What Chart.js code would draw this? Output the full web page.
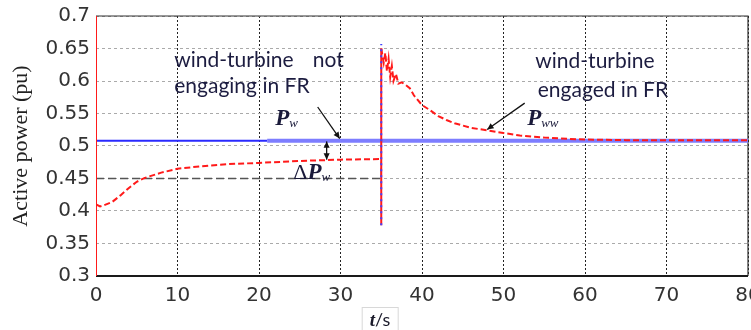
<!DOCTYPE html>
<html>
<head>
<meta charset="utf-8">
<script src="https://cdn.jsdelivr.net/npm/chart.js@4"></script>
<style>html,body{margin:0;padding:0;background:#fff;}canvas{display:block;}</style>
</head>
<body>
<canvas id="c" width="751" height="330"></canvas>
<script>
// ---- data ----
const xTicks = [0, 10, 20, 30, 40, 50, 60, 70, 80];
const yTicks = [0.3, 0.35, 0.4, 0.45, 0.5, 0.55, 0.6, 0.65, 0.7];

// wind turbine not engaging in FR (P_w)
const blueT = [0, 21, 80];
const blueP = [0.508, 0.508, 0.508];
// transient at the event time
const blueSpikeT = [35, 35];
const blueSpikeP = [0.378, 0.657];

// wind turbine engaged in FR (P_ww)
const redT = [0, 0, 0, 0.5, 1, 2, 3, 4, 5, 6, 8, 10, 13, 16, 20, 25, 30, 35,
  35, 35, 35.3, 35.5, 35.7, 35.9, 36.1, 36.3, 36.5, 36.8, 37.1, 37.5, 38, 38.5,
  39, 40, 41, 42, 43, 44, 46, 48, 50, 52, 55, 58, 60, 65, 70, 80];
const redP = [0.7, 0.3, 0.41, 0.407, 0.409, 0.414, 0.424, 0.435, 0.445, 0.451, 0.459, 0.465, 0.469, 0.472, 0.474, 0.477, 0.479, 0.48,
  0.378, 0.65, 0.628, 0.643, 0.615, 0.634, 0.606, 0.623, 0.6, 0.611, 0.596, 0.598, 0.594, 0.589,
  0.578, 0.563, 0.555, 0.546, 0.54, 0.535, 0.528, 0.524, 0.52, 0.516, 0.513, 0.511, 0.51, 0.509, 0.509, 0.509];

// ΔP_w reference level
const refT = [0, 35, 35];
const refP = [0.45, 0.45, 0.476];

const pts = (xs, ys) => xs.map((x, i) => ({x: x, y: ys[i]}));

const annot = {
  id: 'annot',
  beforeDatasetsDraw(chart) {
    const {ctx, chartArea: a} = chart;
    ctx.save();
    ctx.strokeStyle = '#333';
    ctx.lineWidth = 1.2;
    ctx.beginPath();
    ctx.moveTo(a.left, a.top); ctx.lineTo(a.right, a.top); ctx.lineTo(a.right, a.bottom);
    ctx.stroke();
    ctx.strokeStyle = '#1a1a1a';
    ctx.lineWidth = 2;
    ctx.beginPath();
    ctx.moveTo(a.left, a.bottom); ctx.lineTo(a.right, a.bottom);
    ctx.stroke();
    ctx.restore();
  },
  afterDraw(chart) {
    const {ctx, scales: {x, y}, chartArea: a} = chart;
    const X = v => x.getPixelForValue(v), Y = v => y.getPixelForValue(v);
    ctx.save();
    // annotation texts
    ctx.fillStyle = '#1c1c40';
    ctx.font = '21px Lato';
    ctx.textBaseline = 'alphabetic';
    ctx.textAlign = 'left';
    ctx.fillText('wind-turbine', X(9.6), Y(0.6215));
    ctx.fillText('not', X(26.6), Y(0.6215));
    ctx.fillText('engaging in FR', X(9.6), Y(0.5815));
    ctx.fillText('wind-turbine', X(53.9), Y(0.62));
    ctx.fillText('engaged in FR', X(54.2), Y(0.5754));

    // P labels
    const pLabel = (px, py, main, sub, pre) => {
      let cx = px;
      ctx.fillStyle = '#1a1a3a';
      if (pre) {
        ctx.font = '22px "Liberation Serif"';
        ctx.fillText(pre, cx, py);
        cx += ctx.measureText(pre).width;
      }
      ctx.font = 'italic bold 23px "Liberation Serif"';
      ctx.fillText(main, cx, py);
      cx += ctx.measureText(main).width;
      ctx.font = 'italic 13px "Liberation Serif"';
      ctx.fillText(sub, cx, py + 2);
    };
    pLabel(X(22), Y(0.532), 'P', 'w');
    pLabel(X(24.2), Y(0.4495), 'P', 'w', 'Δ');
    pLabel(X(52.9), Y(0.532), 'P', 'ww');

    // arrows
    const arrow = (x0, y0, x1, y1, both) => {
      ctx.strokeStyle = '#111'; ctx.fillStyle = '#111'; ctx.lineWidth = 1.3;
      ctx.beginPath(); ctx.moveTo(x0, y0); ctx.lineTo(x1, y1); ctx.stroke();
      const head = (xa, ya, xb, yb) => {
        const ang = Math.atan2(yb - ya, xb - xa), L = 7, w = 0.45;
        ctx.beginPath();
        ctx.moveTo(xb, yb);
        ctx.lineTo(xb - L * Math.cos(ang - w), yb - L * Math.sin(ang - w));
        ctx.lineTo(xb - L * Math.cos(ang + w), yb - L * Math.sin(ang + w));
        ctx.closePath(); ctx.fill();
      };
      head(x0, y0, x1, y1);
      if (both) head(x1, y1, x0, y0);
    };
    arrow(X(27.2), Y(0.56), X(29.9), Y(0.5115));
    arrow(X(28.3), Y(0.479), X(28.3), Y(0.507), true);
    arrow(X(52.6), Y(0.566), X(48.0), Y(0.5255));

    // x-axis title box "t/s"
    const bx = X(32.6), by = a.bottom + 31, bw = 36, bh = 24;
    ctx.strokeStyle = '#d8d8d8'; ctx.lineWidth = 1;
    ctx.strokeRect(bx + 0.5, by + 0.5, bw, bh);
    ctx.fillStyle = '#1a1a2a';
    ctx.font = 'italic bold 19px "Liberation Serif"';
    ctx.fillText('t', bx + 8, by + 19);
    const tw = ctx.measureText('t').width;
    ctx.font = '18px Lato';
    ctx.fillText('/s', bx + 8 + tw, by + 19);
    ctx.restore();
  }
};

new Chart(document.getElementById('c'), {
  type: 'line',
  data: {
    datasets: [
      {
        label: 'ref', data: pts(refT, refP), borderColor: '#555', borderWidth: 1.3,
        borderDash: [8, 4], pointRadius: 0, tension: 0, order: 4
      },
      {
        label: 'P_w', data: pts(blueT, blueP), pointRadius: 0, tension: 0, order: 3,
        borderColor: '#2a2aff', borderWidth: 2,
        segment: {
          borderColor: c => c.p0.parsed.x < 20 ? '#2a2aff' : '#7d7dff',
          borderWidth: c => c.p0.parsed.x < 20 ? 2 : 4
        }
      },
      {
        label: 'P_ww', data: pts(redT, redP), pointRadius: 0, tension: 0, order: 2,
        borderColor: '#ff1a1a', borderWidth: 2,
        segment: {
          borderDash: c => c.p0.parsed.x === c.p1.parsed.x ? [] : [6, 3]
        }
      },
      {
        label: 'spike', data: pts(blueSpikeT, blueSpikeP), pointRadius: 0, order: 1,
        borderColor: '#4040ff', borderWidth: 2, borderDash: [2, 4]
      }
    ]
  },
  options: {
    responsive: false,
    devicePixelRatio: 1,
    animation: false,
    layout: {padding: {top: 16, right: 3, left: 0, bottom: 0}},
    plugins: {legend: {display: false}, tooltip: {enabled: false}},
    scales: {
      x: {
        type: 'linear', min: 0, max: 80,
        afterBuildTicks: s => { s.ticks = xTicks.map(v => ({value: v})); },
        afterFit: s => { s.height = 54; s.paddingLeft = 0; s.paddingRight = 0; },
        grid: {color: '#222', lineWidth: 1, drawTicks: false},
        border: {display: false, dash: [2, 2]},
        ticks: {padding: 8, color: '#333', font: {family: 'DejaVu Sans', size: 20}, maxRotation: 0}
      },
      y: {
        type: 'linear', min: 0.3, max: 0.7,
        afterBuildTicks: s => { s.ticks = yTicks.map(v => ({value: v})); },
        afterFit: s => { s.width = 96; s.paddingTop = 0; s.paddingBottom = 0; },
        grid: {color: '#aaa', lineWidth: 1, drawTicks: false},
        border: {display: false, dash: [3, 3]},
        ticks: {
          padding: 6, color: '#333', font: {family: 'DejaVu Sans', size: 20},
          callback: v => String(Math.round(v * 100) / 100)
        },
        title: {
          display: true, text: 'Active power (pu)', color: '#222',
          font: {family: 'Liberation Serif', size: 22}, padding: {top: 8, bottom: 0}
        }
      }
    }
  },
  plugins: [annot]
});
</script>
</body>
</html>
